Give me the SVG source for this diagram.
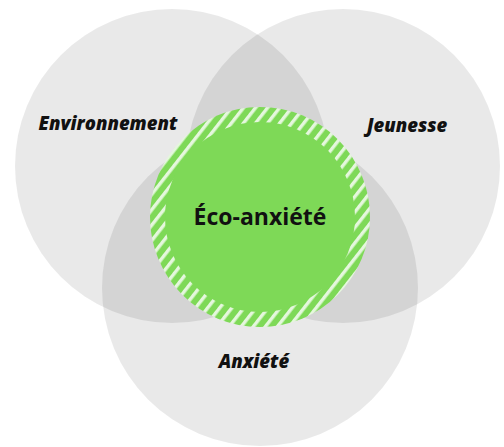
<svg xmlns="http://www.w3.org/2000/svg" width="504" height="447" viewBox="0 0 504 447">
  <defs>
    <pattern id="stripes" patternUnits="userSpaceOnUse" width="9.5" height="9.5" patternTransform="rotate(38)">
      <rect x="0" y="0" width="9.5" height="9.5" fill="#7ed957"/>
      <rect x="0" y="0" width="3.4" height="9.5" fill="#ffffff" fill-opacity="0.8"/>
    </pattern>
  </defs>
  <style>
    .set { fill: #000000; fill-opacity: 0.085; }
    .lbl { font-family: "Open Sans", "Liberation Sans", sans-serif; font-style: italic; font-weight: 800; font-size: 18.5px; fill: #111111; }
    .core { font-family: "Open Sans", "Liberation Sans", sans-serif; font-weight: 700; font-size: 23px; fill: #111111; }
  </style>
  <rect width="504" height="447" fill="#ffffff"/>
  <g id="environnement">
    <circle class="set" cx="172" cy="166" r="157"/>
    <text class="lbl" x="108" y="130" text-anchor="middle">Environnement</text>
  </g>
  <g id="jeunesse">
    <circle class="set" cx="343" cy="166" r="157"/>
    <text class="lbl" x="407" y="132" text-anchor="middle">Jeunesse</text>
  </g>
  <g id="anxiete">
    <circle class="set" cx="260" cy="288" r="158"/>
    <text class="lbl" x="254" y="368" text-anchor="middle">Anxiété</text>
  </g>
  <g id="eco-anxiete">
    <circle cx="260" cy="217" r="110" fill="url(#stripes)"/>
    <circle cx="260" cy="217" r="95" fill="#7ed957"/>
    <text class="core" x="260" y="225" text-anchor="middle">Éco-anxiété</text>
  </g>
  <g id="connectors"/>
</svg>
